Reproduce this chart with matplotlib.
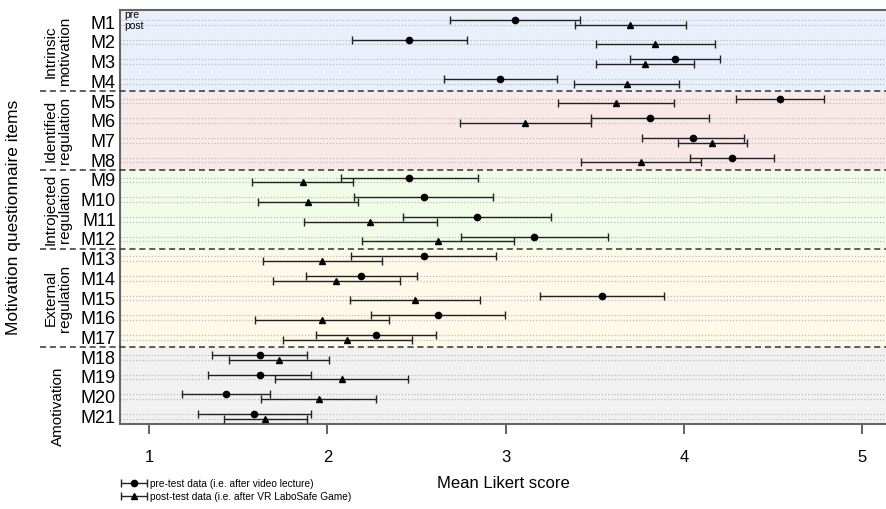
import numpy as np
import matplotlib
matplotlib.use('Agg')
import matplotlib.pyplot as plt
from matplotlib.transforms import blended_transform_factory
from matplotlib.legend_handler import HandlerErrorbar

plt.rcParams['font.family'] = ['Liberation Sans', 'DejaVu Sans']

# item labels and groups
items = ['M%d' % i for i in range(1, 22)]
groups = ['Intrinsic\nmotivation', 'Identified\nregulation', 'Introjected\nregulation',
          'External\nregulation', 'Amotivation']
group_sizes = [4, 4, 4, 5, 4]
group_colors = ['#e9f0fc', '#f9e8e8', '#f1fde9', '#fef9e9', '#f1f1f1']

# pre-test (after video lecture): means and half-widths of the bars
pre_mean = [3.05, 2.46, 3.95, 2.97, 4.54, 3.81, 4.05, 4.27, 2.46, 2.54, 2.84,
            3.16, 2.54, 2.19, 3.54, 2.62, 2.27, 1.62, 1.62, 1.43, 1.59]
pre_err = [0.365, 0.325, 0.253, 0.316, 0.247, 0.33, 0.286, 0.236, 0.385, 0.39,
           0.417, 0.413, 0.408, 0.31, 0.35, 0.377, 0.337, 0.266, 0.288, 0.245, 0.316]

# post-test (after VR LaboSafe Game)
post_mean = [3.70, 3.84, 3.78, 3.68, 3.62, 3.11, 4.16, 3.76, 1.86, 1.89, 2.24,
             2.62, 1.97, 2.05, 2.49, 1.97, 2.11, 1.73, 2.08, 1.95, 1.65]
post_err = [0.31, 0.335, 0.275, 0.295, 0.325, 0.368, 0.194, 0.335, 0.286, 0.28,
            0.372, 0.427, 0.334, 0.355, 0.364, 0.376, 0.362, 0.28, 0.373, 0.323, 0.233]

ypos = np.arange(len(items))
off = 0.117
pre_y = ypos - off
post_y = ypos + off

fig = plt.figure(figsize=(8.87, 5.09), dpi=100)
ax = fig.add_axes([120 / 887, 85 / 509, 767 / 887, 414 / 509])

# group backgrounds and separators
edges = np.concatenate([[-0.62], np.cumsum(group_sizes) - 0.5])
edges[-1] = 20.39
trans = blended_transform_factory(ax.transAxes, ax.transData)
for k in range(len(groups)):
    ax.axhspan(edges[k], edges[k + 1], color=group_colors[k], zorder=0, lw=0)
    mid = (edges[k] + edges[k + 1]) / 2
    if k == 0:
        mid = 1.5
    if k == len(groups) - 1:
        mid = 19.5
    ax.text(-0.081, mid, groups[k], transform=trans, rotation=90, ha='center',
            va='center', fontsize=11, linespacing=1.05, multialignment='center')
for e in edges[1:-1]:
    ax.plot([-0.104, 1], [e, e], transform=trans, color='#333333', lw=1.1,
            ls=(0, (4, 2.5)), clip_on=False, zorder=3)

# dotted guide lines
for y in np.concatenate([pre_y, post_y]):
    ax.axhline(y, color='#bdbdbd', lw=0.9, ls=(0, (1, 1.5)), zorder=1)

pre = ax.errorbar(pre_mean, pre_y, xerr=pre_err, fmt='o', color='black', ms=4.5,
                  ecolor='#222222', elinewidth=1, capsize=3.2, capthick=1, zorder=4,
                  label='pre-test data (i.e. after video lecture)')
post = ax.errorbar(post_mean, post_y, xerr=post_err, fmt='^', color='black', ms=5,
                   ecolor='#222222', elinewidth=1, capsize=3.2, capthick=1, zorder=4,
                   label='post-test data (i.e. after VR LaboSafe Game)')

ax.text(0.005, pre_y[0] - 0.23, 'pre', transform=trans, fontsize=7.5, va='center')
ax.text(0.005, post_y[0] + 0.05, 'post', transform=trans, fontsize=7.5, va='center')

ax.set_xlim(0.8356, 5.14)
ax.set_ylim(20.39, -0.62)
ax.set_yticks(ypos)
ax.set_yticklabels(items, fontsize=13)
ax.tick_params(axis='y', length=0, pad=3)
ax.set_xticks([1, 2, 3, 4, 5])
ax.tick_params(axis='x', length=7, width=1.3, color='#555555', labelsize=12, pad=12)
for s in ['left', 'top', 'bottom']:
    ax.spines[s].set_color('#666666')
    ax.spines[s].set_linewidth(1.5)
ax.spines['right'].set_visible(False)

ax.set_xlabel('Mean Likert score', fontsize=12, labelpad=8)
fig.text(14 / 887, 0.5737, 'Motivation questionnaire items', rotation=90,
         ha='center', va='center', fontsize=12.5)

hm = HandlerErrorbar(xerr_size=1.29, yerr_size=0.38)
fig.legend(handles=[pre, post], loc='upper left', bbox_to_anchor=(121 / 887, 30 / 509),
           frameon=False, fontsize=7.3, handlelength=2.58, handletextpad=0.25,
           borderpad=0, borderaxespad=0, labelspacing=0.3,
           handler_map={type(pre): hm})

fig.savefig('out.png', dpi=100)
